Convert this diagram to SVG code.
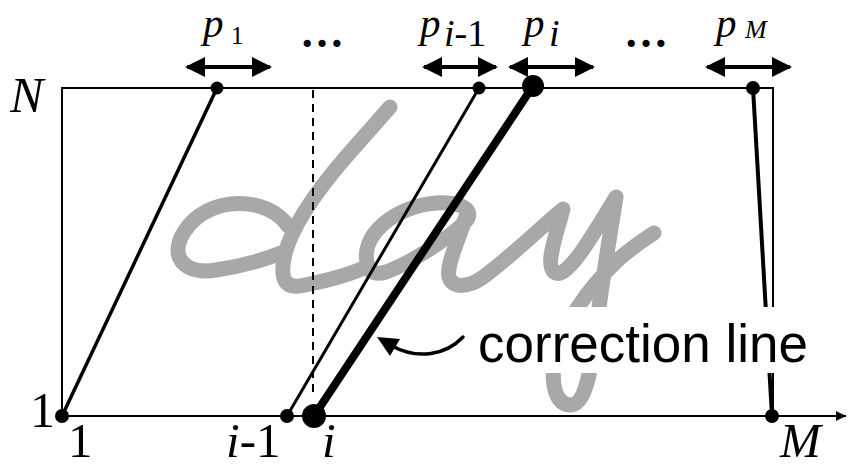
<svg xmlns="http://www.w3.org/2000/svg" width="848" height="468" viewBox="0 0 848 468">
<style>
.frame{fill:none;stroke:#000;stroke-width:2}
.hw{fill:none;stroke:#a8a8a8;stroke-width:15;stroke-linecap:round;stroke-linejoin:round}
.ln{fill:none;stroke:#000;stroke-linecap:round}
.dot{fill:#000}
.dbl{fill:none;stroke:#000;stroke-width:4}
.ser{font-family:"Liberation Serif","Times New Roman",serif;fill:#000}
.it{font-style:italic}
.sans{font-family:"Liberation Sans",Arial,sans-serif;fill:#000}
</style>
<defs>
<marker id="ah" viewBox="0 0 10 10" refX="9" refY="5" markerWidth="5.5" markerHeight="5" orient="auto-start-reverse" markerUnits="strokeWidth">
<path d="M0,0 L10,5 L0,10 Z" fill="#000"/>
</marker>
<marker id="ax" viewBox="0 0 10 10" refX="10" refY="5" markerWidth="6" markerHeight="5" orient="auto" markerUnits="strokeWidth">
<path d="M0,0 L10,5 L0,10 Z" fill="#000"/>
</marker>
</defs>
<rect width="848" height="468" fill="#fff"/>

<g id="handwriting">
<path class="hw" d="M288,226 C268,196 208,194 184,232 C168,258 186,275 216,270 C244,266 266,259 281,253"/>
<path class="hw" d="M390,107 L345,158 C315,193 292,226 285,254 C279,280 285,290 305,285 C330,280 350,275 368,266"/>
<path class="hw" d="M368,266 C358,236 395,206 436,203 C462,201 476,211 465,222 C446,241 406,265 386,272 C376,275 369,272 368,266"/>
<path class="hw" d="M466,216 C459,240 446,264 449,277 C453,290 470,286 482,278 C512,256 540,228 563,209 C556,236 545,264 554,272 C566,281 590,240 616,197 C609,240 601,290 596,330 C591,370 586,404 571,405 C556,405 550,385 555,358 C565,320 590,286 620,258 C634,246 645,239 654,233"/>
</g>

<g id="axes">
<polyline class="frame" points="62,416 62,88 773,88 773,416"/>
<line class="frame" x1="62" y1="416" x2="846" y2="416" marker-end="url(#ax)"/>
<line x1="313" y1="90" x2="313" y2="396" stroke="#000" stroke-width="2" stroke-dasharray="8,6"/>
</g>

<g id="connectors">
<line class="ln" x1="62" y1="416" x2="217" y2="88" stroke-width="3.5"/>
<line class="ln" x1="287" y1="416" x2="479" y2="88" stroke-width="3"/>
<line class="ln" x1="314" y1="416" x2="533" y2="86" stroke-width="8"/>
<line class="ln" x1="772" y1="416" x2="753" y2="88" stroke-width="4"/>
<path class="ln" d="M463,337 C446,355 418,360 392,346" stroke-width="3.5"/>
<path d="M377,337 L400,339 L390,356 Z" fill="#000"/>
</g>

<g id="dots">
<circle class="dot" cx="217" cy="88" r="6.5"/>
<circle class="dot" cx="62" cy="416" r="7"/>
<circle class="dot" cx="479" cy="88" r="6.5"/>
<circle class="dot" cx="287" cy="416" r="7"/>
<circle class="dot" cx="533" cy="86" r="11"/>
<circle class="dot" cx="314" cy="416" r="12"/>
<circle class="dot" cx="753" cy="88" r="7"/>
<circle class="dot" cx="772" cy="416" r="7"/>
</g>

<g id="ranges">
<line class="dbl" x1="187" y1="67" x2="270" y2="67" marker-start="url(#ah)" marker-end="url(#ah)"/>
<line class="dbl" x1="424" y1="67" x2="496" y2="67" marker-start="url(#ah)" marker-end="url(#ah)"/>
<line class="dbl" x1="510" y1="67" x2="593" y2="67" marker-start="url(#ah)" marker-end="url(#ah)"/>
<line class="dbl" x1="707" y1="67" x2="790" y2="67" marker-start="url(#ah)" marker-end="url(#ah)"/>
</g>

<g id="label-box">
<rect x="472" y="307" width="334" height="66" fill="#fff"/>
<text class="sans" x="478" y="362" font-size="53">correction line</text>
</g>

<g id="labels">
<text class="ser it" x="203" y="37" font-size="41">p</text>
<text class="ser" x="231" y="44" font-size="25">1</text>
<text class="ser" x="300" y="47" font-size="44" font-weight="bold">…</text>
<text class="ser it" x="420" y="37" font-size="41">p</text>
<text class="ser" x="444" y="46" font-size="38"><tspan font-style="italic">i</tspan>-1</text>
<text class="ser it" x="524" y="37" font-size="41">p</text>
<text class="ser it" x="549" y="46" font-size="38">i</text>
<text class="ser" x="624" y="47" font-size="44" font-weight="bold">…</text>
<text class="ser it" x="716" y="37" font-size="41">p</text>
<text class="ser it" x="745" y="38" font-size="26">M</text>
<text class="ser it" x="10" y="112" font-size="50">N</text>
<text class="ser" x="30" y="427" font-size="50">1</text>
<text class="ser" x="68" y="457" font-size="49">1</text>
<text class="ser" x="226" y="457" font-size="49"><tspan font-style="italic">i</tspan>-1</text>
<text class="ser it" x="322" y="457" font-size="49">i</text>
<text class="ser it" x="780" y="457" font-size="49">M</text>
</g>
</svg>
